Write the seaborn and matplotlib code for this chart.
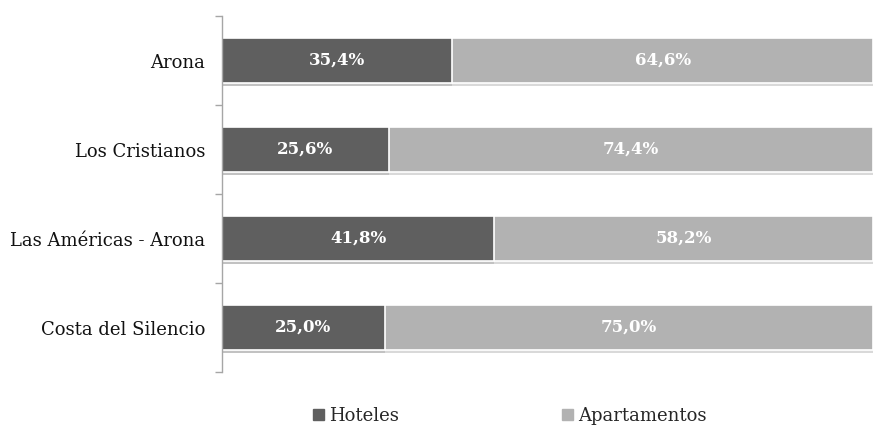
import matplotlib
matplotlib.use("Agg")
import matplotlib.pyplot as plt
import matplotlib.patheffects as pe
from matplotlib.patches import Patch
import pandas as pd
import seaborn as sns

# Share of tourist beds by establishment type and zone
zonas = ["Arona", "Los Cristianos", "Las Américas - Arona", "Costa del Silencio"]
hoteles = [35.4, 25.6, 41.8, 25.0]
apartamentos = [64.6, 74.4, 58.2, 75.0]
series = ["Hoteles", "Apartamentos"]

color_hot = "#5f5f5f"
color_apt = "#b2b2b2"

sns.set_theme(style="white")
plt.rcParams["font.family"] = ["DejaVu Serif"]

df = pd.DataFrame({"zona": zonas, "Hoteles": hoteles, "Apartamentos": apartamentos})
df["total"] = df["Hoteles"] + df["Apartamentos"]

fig = plt.figure(figsize=(8.73, 4.28), dpi=100)
ax = fig.add_axes([0.2543, 0.1308, 0.7457, 0.8318])

shadow = [pe.SimplePatchShadow(offset=(0, -2.5), shadow_rgbFace="#a0a0a0", alpha=0.4), pe.Normal()]

# Stacked bars: full length in the light tone, hotel share overlaid in dark
sns.barplot(data=df, y="zona", x="total", order=zonas, color=color_apt,
            width=0.5, edgecolor="white", linewidth=1.2, ax=ax, saturation=1)
sns.barplot(data=df, y="zona", x="Hoteles", order=zonas, color=color_hot,
            width=0.5, edgecolor="white", linewidth=1.2, ax=ax, saturation=1)
for p in ax.patches:
    p.set_path_effects(shadow)

for i, (h, a) in enumerate(zip(hoteles, apartamentos)):
    ax.text(h / 2, i, f"{h:.1f}%".replace(".", ","), ha="center", va="center",
            color="white", fontsize=12, fontweight="bold")
    ax.text(h + a / 2, i, f"{a:.1f}%".replace(".", ","), ha="center", va="center",
            color="white", fontsize=12, fontweight="bold")

ax.set_xlim(0, 100)
ax.set_ylim(len(zonas) - 0.5, -0.5)
ax.set_xlabel("")
ax.set_ylabel("")
ax.set_xticks([])

# Category ticks sit between bars
ax.set_yticks([i - 0.5 for i in range(len(zonas) + 1)], minor=False)
ax.set_yticklabels([])
ax.set_yticks(range(len(zonas)), minor=True)
ax.set_yticklabels(zonas, minor=True, fontsize=13, color="#111111")
ax.tick_params(axis="y", which="major", direction="out", length=5, width=1,
               color="#a6a6a6", left=True)
ax.tick_params(axis="y", which="minor", length=0, pad=12)

for s in ["top", "right", "bottom"]:
    ax.spines[s].set_visible(False)
ax.spines["left"].set_color("#a6a6a6")
ax.spines["left"].set_linewidth(1)

handles = [Patch(color=color_hot, label=series[0]), Patch(color=color_apt, label=series[1])]
fig.legend(handles=handles, loc="center", bbox_to_anchor=(0.584, 0.028), ncol=2,
           frameon=False, fontsize=13, handlelength=0.6, handleheight=0.6,
           handletextpad=0.3, columnspacing=9)

fig.savefig("out.png", dpi=100)
